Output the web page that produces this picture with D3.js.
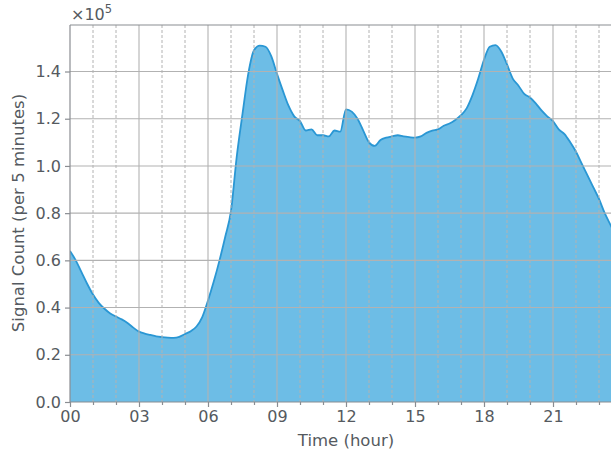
<!DOCTYPE html>
<html><head><meta charset="utf-8">
<script src="https://cdn.jsdelivr.net/npm/d3@7"></script>
<style>body{margin:0;background:#fff;overflow:hidden}svg{display:block}</style>
</head><body>
<script>
// Time of day in hours (15-minute steps), values in units of 1e5 signals per 5 minutes
const hours = d3.range(0, 24.001, 0.25);
const counts = [
 0.64,0.60,0.55,0.50, 0.455,0.42,0.395,0.375, 0.362,0.35,0.335,0.315,
 0.298,0.29,0.284,0.278, 0.275,0.273,0.272,0.276, 0.288,0.30,0.32,0.36,
 0.43,0.51,0.60,0.70, 0.81,1.04,1.22,1.39, 1.49,1.51,1.505,1.465,
 1.39,1.32,1.255,1.21, 1.19,1.15,1.155,1.13, 1.13,1.125,1.15,1.145,
 1.24,1.23,1.20,1.15, 1.10,1.085,1.11,1.12, 1.125,1.13,1.125,1.122,
 1.12,1.125,1.14,1.15, 1.155,1.17,1.18,1.195, 1.215,1.245,1.30,1.37,
 1.45,1.505,1.512,1.485, 1.43,1.37,1.34,1.305, 1.29,1.265,1.235,1.21,
 1.19,1.155,1.135,1.10, 1.06,1.01,0.96,0.91, 0.86,0.80,0.75,0.70, 0.65
];
const xMajorTicks = [0,3,6,9,12,15,18,21];
const xTickLabels = ["00","03","06","09","12","15","18","21"];
const xMinorTicks = d3.range(0, 24, 1).filter(h => h % 3 !== 0);
const yTicks = [0,0.2,0.4,0.6,0.8,1.0,1.2,1.4];

const W = 611, H = 450;
const svg = d3.select("body").append("svg").attr("width", W).attr("height", H);
const x = d3.scaleLinear().domain([0, 24]).range([70, 622]);
const y = d3.scaleLinear().domain([0, 1.597]).range([402, 25]);
const data = hours.map((h, i) => ({h, v: counts[i]}));
const font = "DejaVu Sans, sans-serif";
const textCol = "#555a60";
const gridCol = "#b2b2b2";
const fs = "16px";
const fsLabel = "16.5px";

svg.append("clipPath").attr("id","clip").append("rect")
  .attr("x",70).attr("y",25).attr("width",552).attr("height",377);

// area
const g = svg.append("g").attr("clip-path","url(#clip)");
g.append("path").datum(data)
  .attr("d", d3.area().x(d=>x(d.h)).y0(y(0)).y1(d=>y(d.v)).curve(d3.curveMonotoneX))
  .attr("fill","#6dbde6");

// grid
const grid = svg.append("g");
grid.selectAll(".gx").data(xMajorTicks.slice(1)).join("line")
  .attr("x1",d=>x(d)).attr("x2",d=>x(d)).attr("y1",25).attr("y2",402)
  .attr("stroke",gridCol).attr("stroke-width",1.1);
grid.selectAll(".gm").data(xMinorTicks).join("line")
  .attr("x1",d=>x(d)).attr("x2",d=>x(d)).attr("y1",25).attr("y2",402)
  .attr("stroke",gridCol).attr("stroke-width",1).attr("stroke-dasharray","3,2");
grid.selectAll(".gy").data(yTicks.slice(1)).join("line")
  .attr("x1",70).attr("x2",622).attr("y1",d=>y(d)).attr("y2",d=>y(d))
  .attr("stroke",gridCol).attr("stroke-width",1.1);

// line
g.append("path").datum(data)
  .attr("d", d3.line().x(d=>x(d.h)).y(d=>y(d.v)).curve(d3.curveMonotoneX))
  .attr("fill","none").attr("stroke","#2a97d4").attr("stroke-width",1.8);

// axes
const axCol = "#8a8d92";
const xAxis = svg.append("g").attr("transform","translate(0,402)")
  .call(d3.axisBottom(x).tickValues(xMajorTicks).tickFormat((d,i)=>xTickLabels[i]).tickSize(5).tickPadding(4));
const xMinor = svg.append("g").attr("transform","translate(0,402)")
  .call(d3.axisBottom(x).tickValues(xMinorTicks).tickFormat("").tickSize(3));
xMinor.select(".domain").remove();
const yAxis = svg.append("g").attr("transform","translate(70,0)")
  .call(d3.axisLeft(y).tickValues(yTicks).tickFormat(d3.format(".1f")).tickSize(5).tickPadding(4));
[xAxis, yAxis, xMinor].forEach(a=>{
  a.selectAll("path,line").attr("stroke",axCol).attr("stroke-width",1.2);
  a.selectAll("text").attr("fill",textCol).style("font-family",font).style("font-size",fs);
});
xAxis.select(".domain").attr("d","M70,0H622");
yAxis.select(".domain").attr("d","M0,402V25");
svg.append("line").attr("x1",70).attr("x2",622).attr("y1",25).attr("y2",25)
  .attr("stroke",axCol).attr("stroke-width",1.2);

// labels
svg.append("text").attr("x",71).attr("y",20).attr("fill",textCol)
  .style("font-family",font).style("font-size",fs)
  .html('×10<tspan dy="-7" font-size="11.5px">5</tspan>');
svg.append("text").attr("x",346).attr("y",446).attr("text-anchor","middle")
  .attr("fill",textCol).style("font-family",font).style("font-size",fsLabel).text("Time (hour)");
svg.append("text").attr("transform","translate(24,213) rotate(-90)").attr("text-anchor","middle")
  .attr("fill",textCol).style("font-family",font).style("font-size",fsLabel).text("Signal Count (per 5 minutes)");
</script>
</body></html>
